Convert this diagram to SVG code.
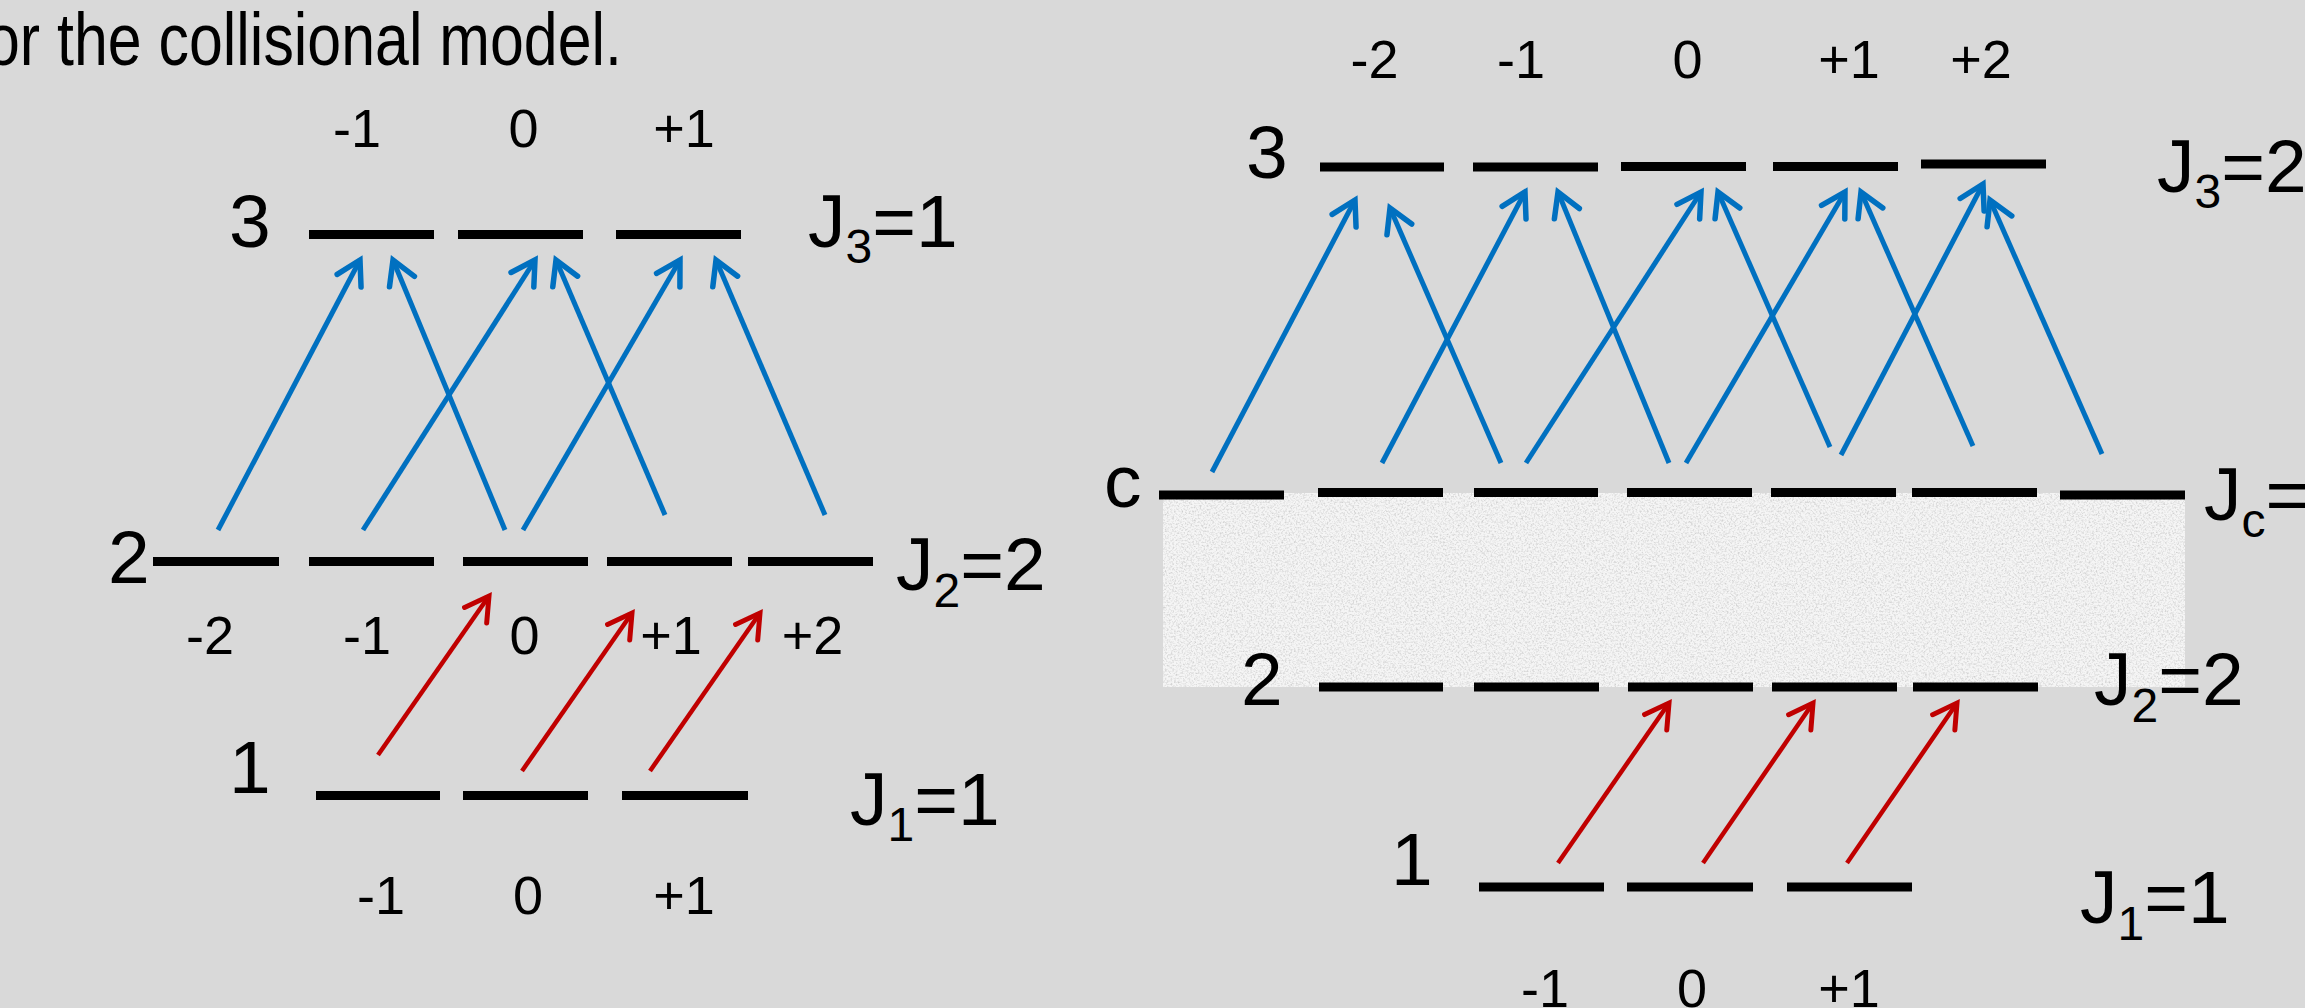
<svg xmlns="http://www.w3.org/2000/svg" width="2305" height="1008" viewBox="0 0 2305 1008">
<defs>
<style>
.bg{fill:#d9d9d9}
.lvl line{stroke:#000;stroke-width:9}
.t{font-family:"Liberation Sans",Arial,sans-serif;fill:#000}
.big{font-size:75px}
.sm{font-size:54px;text-anchor:middle}
.sub{font-size:48px}
.blue{stroke:#0070c0;stroke-width:5;fill:none;marker-end:url(#ab)}
.red{stroke:#c00000;stroke-width:4.5;fill:none;marker-end:url(#ar)}
</style>
<marker id="ab" markerUnits="userSpaceOnUse" orient="auto" refX="0" refY="0" markerWidth="60" markerHeight="60" viewBox="-30 -30 60 60" overflow="visible">
<path d="M-23.4,-13.5 L0,0 L-23.4,13.5" fill="none" stroke="#0070c0" stroke-width="5.5" stroke-linecap="round" stroke-linejoin="miter"/>
</marker>
<marker id="ar" markerUnits="userSpaceOnUse" orient="auto" refX="0" refY="0" markerWidth="60" markerHeight="60" viewBox="-30 -30 60 60" overflow="visible">
<path d="M-23.4,-13.5 L0,0 L-23.4,13.5" fill="none" stroke="#c00000" stroke-width="5" stroke-linecap="round" stroke-linejoin="miter"/>
</marker>
<filter id="grain" x="0" y="0" width="100%" height="100%">
<feTurbulence type="fractalNoise" baseFrequency="0.55" numOctaves="3" seed="7" result="n"/>
<feColorMatrix in="n" type="matrix" values="0 0 0 0 0.62  0 0 0 0 0.62  0 0 0 0 0.62  2.2 0 0 0 -0.95"/>
</filter>
</defs>
<rect class="bg" x="0" y="0" width="2305" height="1008"/>

<g id="title">
<text class="t" x="-14" y="65" font-size="74" textLength="636" lengthAdjust="spacingAndGlyphs">or the collisional model.</text>
</g>

<g id="collision-band">
<rect x="1163" y="493" width="1022" height="194" fill="#f5f5f5"/>
<rect x="1163" y="493" width="1022" height="194" fill="#fff" filter="url(#grain)"/>
</g>

<!-- Left diagram -->
<g id="L-level3" class="lvl">
<line x1="309" y1="234.5" x2="434" y2="234.5"/>
<line x1="458" y1="234.5" x2="583" y2="234.5"/>
<line x1="616" y1="234.5" x2="741" y2="234.5"/>
<text class="t big" x="229" y="247">3</text>
<text class="t big" x="808" y="247">J<tspan class="sub" dy="16">3</tspan><tspan dy="-16">=1</tspan></text>
<text class="t sm" x="357" y="147">-1</text>
<text class="t sm" x="523.5" y="147">0</text>
<text class="t sm" x="684" y="147">+1</text>
</g>
<g id="L-level2" class="lvl">
<line x1="153" y1="561.5" x2="279" y2="561.5"/>
<line x1="309" y1="561.5" x2="434" y2="561.5"/>
<line x1="463" y1="561.5" x2="588" y2="561.5"/>
<line x1="607" y1="561.5" x2="732" y2="561.5"/>
<line x1="748" y1="561.5" x2="873" y2="561.5"/>
<text class="t big" x="108" y="583">2</text>
<text class="t big" x="896" y="590">J<tspan class="sub" dy="17">2</tspan><tspan dy="-17">=2</tspan></text>
<text class="t sm" x="210" y="654">-2</text>
<text class="t sm" x="367" y="654">-1</text>
<text class="t sm" x="524.5" y="654">0</text>
<text class="t sm" x="671" y="654">+1</text>
<text class="t sm" x="812.5" y="654">+2</text>
</g>
<g id="L-level1" class="lvl">
<line x1="316" y1="795.5" x2="440" y2="795.5"/>
<line x1="463" y1="795.5" x2="588" y2="795.5"/>
<line x1="622" y1="795.5" x2="748" y2="795.5"/>
<text class="t big" x="229" y="793">1</text>
<text class="t big" x="850" y="825">J<tspan class="sub" dy="16">1</tspan><tspan dy="-16">=1</tspan></text>
<text class="t sm" x="381" y="914">-1</text>
<text class="t sm" x="528" y="914">0</text>
<text class="t sm" x="684" y="914">+1</text>
</g>

<!-- Right diagram -->
<g id="R-level3" class="lvl">
<line x1="1320" y1="167" x2="1444" y2="167"/>
<line x1="1473" y1="167" x2="1598" y2="167"/>
<line x1="1621" y1="166.5" x2="1746" y2="166.5"/>
<line x1="1773" y1="166.5" x2="1898" y2="166.5"/>
<line x1="1921" y1="164" x2="2046" y2="164"/>
<text class="t big" x="1246" y="178">3</text>
<text class="t big" x="2157" y="192">J<tspan class="sub" dy="16">3</tspan><tspan dy="-16">=2</tspan></text>
<text class="t sm" x="1374.5" y="78">-2</text>
<text class="t sm" x="1521" y="78">-1</text>
<text class="t sm" x="1687.5" y="78">0</text>
<text class="t sm" x="1849" y="78">+1</text>
<text class="t sm" x="1981" y="78">+2</text>
</g>
<g id="R-levelc" class="lvl">
<line x1="1159" y1="495" x2="1284" y2="495"/>
<line x1="1318" y1="492.5" x2="1443" y2="492.5"/>
<line x1="1474" y1="492.5" x2="1598" y2="492.5"/>
<line x1="1627" y1="492.5" x2="1752" y2="492.5"/>
<line x1="1771" y1="492.5" x2="1896" y2="492.5"/>
<line x1="1912" y1="492.5" x2="2037" y2="492.5"/>
<line x1="2060" y1="495" x2="2185" y2="495"/>
<text class="t big" x="1104" y="507">c</text>
<text class="t big" x="2204" y="520">J<tspan class="sub" dy="17">c</tspan><tspan dy="-17">=</tspan></text>
</g>
<g id="R-level2" class="lvl">
<line x1="1319" y1="687" x2="1443" y2="687"/>
<line x1="1474" y1="687" x2="1599" y2="687"/>
<line x1="1628" y1="687" x2="1753" y2="687"/>
<line x1="1772" y1="687" x2="1897" y2="687"/>
<line x1="1913" y1="687" x2="2038" y2="687"/>
<text class="t big" x="1241" y="705">2</text>
<text class="t big" x="2094" y="705">J<tspan class="sub" dy="17">2</tspan><tspan dy="-17">=2</tspan></text>
</g>
<g id="R-level1" class="lvl">
<line x1="1479" y1="887" x2="1604" y2="887"/>
<line x1="1627" y1="887" x2="1753" y2="887"/>
<line x1="1787" y1="887" x2="1912" y2="887"/>
<text class="t big" x="1391" y="885">1</text>
<text class="t big" x="2080" y="923">J<tspan class="sub" dy="17">1</tspan><tspan dy="-17">=1</tspan></text>
<text class="t sm" x="1545" y="1007">-1</text>
<text class="t sm" x="1692" y="1007">0</text>
<text class="t sm" x="1849" y="1007">+1</text>
</g>

<g id="connectors">
<line class="blue" x1="218" y1="530" x2="360" y2="260"/>
<line class="blue" x1="505" y1="530" x2="393" y2="260"/>
<line class="blue" x1="363" y1="530" x2="535" y2="260"/>
<line class="blue" x1="665" y1="515" x2="556" y2="260"/>
<line class="blue" x1="523" y1="530" x2="680" y2="260"/>
<line class="blue" x1="825" y1="515" x2="716" y2="260"/>
<line class="red" x1="378" y1="755" x2="489" y2="596"/>
<line class="red" x1="522" y1="771" x2="632" y2="613"/>
<line class="red" x1="650" y1="771" x2="760" y2="613"/>

<line class="blue" x1="1212" y1="472" x2="1355" y2="200"/>
<line class="blue" x1="1501" y1="463" x2="1390" y2="208"/>
<line class="blue" x1="1382" y1="463" x2="1525" y2="192"/>
<line class="blue" x1="1669" y1="463" x2="1558" y2="192"/>
<line class="blue" x1="1526" y1="463" x2="1701" y2="192"/>
<line class="blue" x1="1830" y1="447" x2="1718" y2="192"/>
<line class="blue" x1="1686" y1="463" x2="1845" y2="192"/>
<line class="blue" x1="1973" y1="446" x2="1861" y2="192"/>
<line class="blue" x1="1841" y1="455" x2="1983" y2="184"/>
<line class="blue" x1="2102" y1="454" x2="1990" y2="200"/>
<line class="red" x1="1558" y1="863" x2="1669" y2="703"/>
<line class="red" x1="1703" y1="863" x2="1813" y2="703"/>
<line class="red" x1="1847" y1="863" x2="1957" y2="703"/>
</g>
</svg>
